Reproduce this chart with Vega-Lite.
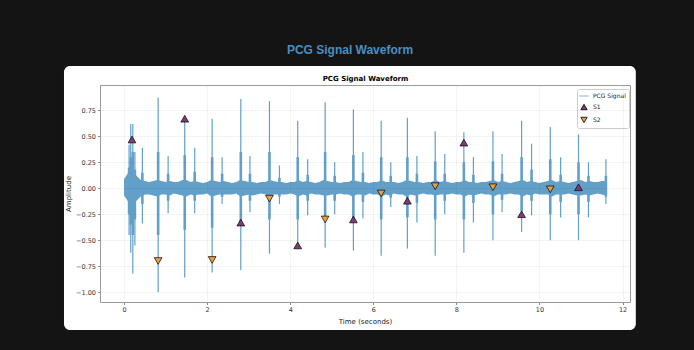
{
  "$schema": "https://vega.github.io/schema/vega-lite/v6.json",
  "width": 530,
  "height": 217,
  "autosize": {"type": "none"},
  "padding": {"left": 100, "top": 85, "right": 64, "bottom": 48},
  "background": "#141414",
  "title": {
    "text": "PCG Signal Waveform",
    "anchor": "middle",
    "frame": "group",
    "dx": -15,
    "offset": 9,
    "font": "Liberation Sans",
    "fontSize": 12,
    "fontWeight": "bold",
    "color": "#4a8fc0"
  },
  "config": {
    "view": {"stroke": null},
    "axis": {
      "labelFont": "DejaVu Sans",
      "labelFontSize": 6.5,
      "labelColor": "#333333",
      "titleFont": "DejaVu Sans",
      "titleFontSize": 7,
      "titleColor": "#222222",
      "titleFontWeight": "normal",
      "domainColor": "#9a9a9a",
      "domainWidth": 1,
      "tickColor": "#555555",
      "tickSize": 2.5,
      "tickWidth": 0.7,
      "gridColor": "#000000",
      "gridOpacity": 0.08,
      "gridWidth": 0.6,
      "labelPadding": 2
    }
  },
  "datasets": {
    "band": [
      {"t":0.0,"h":0.09,"l":-0.07},{"t":0.1,"h":0.15,"l":-0.13},{"t":0.2,"h":0.17,"l":-0.15},{"t":0.3,"h":0.12,"l":-0.12},
      {"t":0.4,"h":0.08,"l":-0.08},{"t":0.5,"h":0.07,"l":-0.06},{"t":0.6,"h":0.06,"l":-0.06},{"t":0.7,"h":0.07,"l":-0.07},
      {"t":0.8,"h":0.08,"l":-0.08},{"t":0.9,"h":0.07,"l":-0.06},{"t":1.0,"h":0.06,"l":-0.06},{"t":1.1,"h":0.07,"l":-0.07},
      {"t":1.2,"h":0.06,"l":-0.05},{"t":1.3,"h":0.06,"l":-0.06},{"t":1.4,"h":0.08,"l":-0.07},{"t":1.5,"h":0.08,"l":-0.08},
      {"t":1.6,"h":0.06,"l":-0.06},{"t":1.7,"h":0.07,"l":-0.07},{"t":1.8,"h":0.06,"l":-0.06},{"t":1.9,"h":0.05,"l":-0.06},
      {"t":2.0,"h":0.06,"l":-0.05},{"t":2.1,"h":0.08,"l":-0.08},{"t":2.2,"h":0.07,"l":-0.07},{"t":2.3,"h":0.06,"l":-0.06},
      {"t":2.4,"h":0.07,"l":-0.06},{"t":2.5,"h":0.06,"l":-0.06},{"t":2.6,"h":0.05,"l":-0.06},{"t":2.7,"h":0.06,"l":-0.05},
      {"t":2.8,"h":0.08,"l":-0.08},{"t":2.9,"h":0.07,"l":-0.07},{"t":3.0,"h":0.06,"l":-0.06},{"t":3.1,"h":0.06,"l":-0.07},
      {"t":3.2,"h":0.05,"l":-0.06},{"t":3.3,"h":0.06,"l":-0.05},{"t":3.4,"h":0.06,"l":-0.06},{"t":3.5,"h":0.08,"l":-0.08},
      {"t":3.6,"h":0.07,"l":-0.06},{"t":3.7,"h":0.06,"l":-0.06},{"t":3.8,"h":0.06,"l":-0.06},{"t":3.9,"h":0.05,"l":-0.06},
      {"t":4.0,"h":0.06,"l":-0.05},{"t":4.1,"h":0.06,"l":-0.06},{"t":4.2,"h":0.08,"l":-0.08},{"t":4.3,"h":0.06,"l":-0.06},
      {"t":4.4,"h":0.07,"l":-0.07},{"t":4.5,"h":0.06,"l":-0.05},{"t":4.6,"h":0.05,"l":-0.06},{"t":4.7,"h":0.06,"l":-0.06},
      {"t":4.8,"h":0.08,"l":-0.07},{"t":4.9,"h":0.07,"l":-0.07},{"t":5.0,"h":0.06,"l":-0.06},{"t":5.1,"h":0.06,"l":-0.06},
      {"t":5.2,"h":0.05,"l":-0.05},{"t":5.3,"h":0.06,"l":-0.06},{"t":5.4,"h":0.06,"l":-0.06},{"t":5.5,"h":0.08,"l":-0.08},
      {"t":5.6,"h":0.07,"l":-0.06},{"t":5.7,"h":0.06,"l":-0.06},{"t":5.8,"h":0.06,"l":-0.07},{"t":5.9,"h":0.05,"l":-0.05},
      {"t":6.0,"h":0.06,"l":-0.06},{"t":6.1,"h":0.06,"l":-0.06},{"t":6.2,"h":0.08,"l":-0.08},{"t":6.3,"h":0.06,"l":-0.06},
      {"t":6.4,"h":0.06,"l":-0.07},{"t":6.5,"h":0.06,"l":-0.05},{"t":6.6,"h":0.05,"l":-0.06},{"t":6.7,"h":0.06,"l":-0.06},
      {"t":6.8,"h":0.08,"l":-0.08},{"t":6.9,"h":0.07,"l":-0.06},{"t":7.0,"h":0.06,"l":-0.07},{"t":7.1,"h":0.06,"l":-0.06},
      {"t":7.2,"h":0.05,"l":-0.05},{"t":7.3,"h":0.06,"l":-0.06},{"t":7.4,"h":0.06,"l":-0.06},{"t":7.5,"h":0.08,"l":-0.07},
      {"t":7.6,"h":0.06,"l":-0.06},{"t":7.7,"h":0.07,"l":-0.06},{"t":7.8,"h":0.06,"l":-0.06},{"t":7.9,"h":0.05,"l":-0.05},
      {"t":8.0,"h":0.06,"l":-0.06},{"t":8.1,"h":0.06,"l":-0.06},{"t":8.2,"h":0.08,"l":-0.08},{"t":8.3,"h":0.06,"l":-0.06},
      {"t":8.4,"h":0.06,"l":-0.07},{"t":8.5,"h":0.05,"l":-0.06},{"t":8.6,"h":0.06,"l":-0.05},{"t":8.7,"h":0.06,"l":-0.06},
      {"t":8.8,"h":0.07,"l":-0.06},{"t":8.9,"h":0.08,"l":-0.08},{"t":9.0,"h":0.06,"l":-0.06},{"t":9.1,"h":0.07,"l":-0.06},
      {"t":9.2,"h":0.06,"l":-0.06},{"t":9.3,"h":0.05,"l":-0.05},{"t":9.4,"h":0.06,"l":-0.06},{"t":9.5,"h":0.07,"l":-0.06},
      {"t":9.6,"h":0.08,"l":-0.08},{"t":9.7,"h":0.06,"l":-0.06},{"t":9.8,"h":0.07,"l":-0.07},{"t":9.9,"h":0.06,"l":-0.05},
      {"t":10.0,"h":0.05,"l":-0.06},{"t":10.1,"h":0.06,"l":-0.06},{"t":10.2,"h":0.07,"l":-0.06},{"t":10.3,"h":0.08,"l":-0.08},
      {"t":10.4,"h":0.06,"l":-0.06},{"t":10.5,"h":0.07,"l":-0.06},{"t":10.6,"h":0.06,"l":-0.06},{"t":10.7,"h":0.05,"l":-0.05},
      {"t":10.8,"h":0.06,"l":-0.06},{"t":10.9,"h":0.07,"l":-0.07},{"t":11.0,"h":0.08,"l":-0.07},{"t":11.1,"h":0.06,"l":-0.06},
      {"t":11.2,"h":0.07,"l":-0.07},{"t":11.3,"h":0.06,"l":-0.06},{"t":11.4,"h":0.06,"l":-0.05},{"t":11.5,"h":0.07,"l":-0.06},
      {"t":11.6,"h":0.07,"l":-0.07}
    ],
    "spikes": [
      {"t":0.12,"top":0.42,"bot":-0.45,"ct":0.2,"cb":-0.25},
      {"t":0.16,"top":0.62,"bot":-0.62,"ct":0.3,"cb":-0.35},
      {"t":0.21,"top":0.62,"bot":-0.82,"ct":0.35,"cb":-0.45},
      {"t":0.26,"top":0.35,"bot":-0.55,"ct":0.18,"cb":-0.3},
      {"t":0.44,"top":0.39,"bot":-0.34,"ct":0.15,"cb":-0.15},
      {"t":0.82,"top":0.875,"bot":-1.0,"ct":0.35,"cb":-0.45},
      {"t":1.06,"top":0.31,"bot":-0.24,"ct":0.14,"cb":-0.12},
      {"t":1.46,"top":0.70,"bot":-0.86,"ct":0.32,"cb":-0.4},
      {"t":1.70,"top":0.39,"bot":-0.24,"ct":0.16,"cb":-0.12},
      {"t":2.12,"top":0.67,"bot":-0.81,"ct":0.3,"cb":-0.38},
      {"t":2.36,"top":0.30,"bot":-0.15,"ct":0.14,"cb":-0.08},
      {"t":2.81,"top":0.86,"bot":-0.79,"ct":0.35,"cb":-0.35},
      {"t":3.03,"top":0.31,"bot":-0.23,"ct":0.14,"cb":-0.12},
      {"t":3.50,"top":0.84,"bot":-0.63,"ct":0.35,"cb":-0.3},
      {"t":3.74,"top":0.22,"bot":-0.15,"ct":0.1,"cb":-0.08},
      {"t":4.18,"top":0.65,"bot":-0.58,"ct":0.3,"cb":-0.3},
      {"t":4.42,"top":0.28,"bot":-0.26,"ct":0.13,"cb":-0.12},
      {"t":4.84,"top":0.83,"bot":-0.57,"ct":0.35,"cb":-0.28},
      {"t":5.07,"top":0.25,"bot":-0.25,"ct":0.12,"cb":-0.12},
      {"t":5.52,"top":0.76,"bot":-0.60,"ct":0.32,"cb":-0.3},
      {"t":5.75,"top":0.35,"bot":-0.29,"ct":0.15,"cb":-0.13},
      {"t":6.19,"top":0.65,"bot":-0.65,"ct":0.3,"cb":-0.3},
      {"t":6.42,"top":0.25,"bot":-0.18,"ct":0.12,"cb":-0.09},
      {"t":6.82,"top":0.68,"bot":-0.58,"ct":0.3,"cb":-0.28},
      {"t":7.05,"top":0.31,"bot":-0.33,"ct":0.14,"cb":-0.14},
      {"t":7.49,"top":0.55,"bot":-0.65,"ct":0.26,"cb":-0.3},
      {"t":7.72,"top":0.33,"bot":-0.25,"ct":0.14,"cb":-0.12},
      {"t":8.18,"top":0.54,"bot":-0.62,"ct":0.25,"cb":-0.3},
      {"t":8.41,"top":0.30,"bot":-0.33,"ct":0.13,"cb":-0.14},
      {"t":8.88,"top":0.55,"bot":-0.50,"ct":0.26,"cb":-0.25},
      {"t":9.10,"top":0.33,"bot":-0.23,"ct":0.14,"cb":-0.11},
      {"t":9.57,"top":0.65,"bot":-0.42,"ct":0.3,"cb":-0.22},
      {"t":9.81,"top":0.43,"bot":-0.26,"ct":0.18,"cb":-0.12},
      {"t":10.26,"top":0.59,"bot":-0.50,"ct":0.28,"cb":-0.25},
      {"t":10.51,"top":0.30,"bot":-0.28,"ct":0.13,"cb":-0.13},
      {"t":10.94,"top":0.52,"bot":-0.50,"ct":0.25,"cb":-0.25},
      {"t":11.18,"top":0.25,"bot":-0.28,"ct":0.12,"cb":-0.13},
      {"t":11.60,"top":0.28,"bot":-0.15,"ct":0.12,"cb":-0.08}
    ],
    "markers": [
      {"t":0.19,"a":0.47,"series":"S1"},
      {"t":1.46,"a":0.67,"series":"S1"},
      {"t":2.81,"a":-0.33,"series":"S1"},
      {"t":4.18,"a":-0.55,"series":"S1"},
      {"t":5.52,"a":-0.30,"series":"S1"},
      {"t":6.82,"a":-0.12,"series":"S1"},
      {"t":8.18,"a":0.44,"series":"S1"},
      {"t":9.57,"a":-0.25,"series":"S1"},
      {"t":10.94,"a":0.01,"series":"S1"},
      {"t":0.82,"a":-0.70,"series":"S2"},
      {"t":2.12,"a":-0.69,"series":"S2"},
      {"t":3.50,"a":-0.10,"series":"S2"},
      {"t":4.84,"a":-0.30,"series":"S2"},
      {"t":6.19,"a":-0.05,"series":"S2"},
      {"t":7.49,"a":0.02,"series":"S2"},
      {"t":8.88,"a":0.01,"series":"S2"},
      {"t":10.26,"a":-0.01,"series":"S2"}
    ]
  },
  "layer": [
    {
      "data": {"values": [{}]},
      "mark": {"type": "rect", "fill": "#ffffff", "cornerRadius": 6, "clip": false},
      "encoding": {
        "x": {"datum": -1.447, "type": "quantitative", "scale": {"domain": [-0.58, 12.18], "nice": false, "zero": false},
              "axis": {"zindex": 1, "orient": "bottom", "title": "Time (seconds)", "values": [0,2,4,6,8,10,12], "format": "d", "grid": true, "titlePadding": 4}},
        "x2": {"datum": 12.32},
        "y": {"datum": 1.178, "type": "quantitative", "scale": {"domain": [-1.095, 0.995], "nice": false, "zero": false},
              "axis": {"zindex": 1, "orient": "left", "title": "Amplitude", "values": [-1,-0.75,-0.5,-0.25,0,0.25,0.5,0.75], "format": ".2f", "grid": true, "titlePadding": 4}},
        "y2": {"datum": -1.365}
      }
    },
    {
      "data": {"name": "band"},
      "mark": {"type": "area", "color": "#62a0ca", "opacity": 1},
      "encoding": {
        "x": {"field": "t", "type": "quantitative", "scale": {"domain": [-0.58, 12.18], "nice": false, "zero": false},
              "axis": {"zindex": 1, "orient": "top", "title": "PCG Signal Waveform", "titleFontWeight": "bold", "titleFontSize": 7, "titleColor": "#000000", "labels": false, "ticks": false, "grid": false, "titlePadding": 4}},
        "y": {"field": "h", "type": "quantitative", "scale": {"domain": [-1.095, 0.995], "nice": false, "zero": false},
              "axis": {"zindex": 1, "orient": "right", "title": null, "labels": false, "ticks": false, "grid": false}},
        "y2": {"field": "l"}
      }
    },
    {
      "data": {"name": "spikes"},
      "mark": {"type": "rule", "color": "#62a0ca", "strokeWidth": 1.2},
      "encoding": {
        "x": {"field": "t", "type": "quantitative", "scale": {"domain": [-0.58, 12.18], "nice": false, "zero": false}, "axis": null},
        "y": {"field": "top", "type": "quantitative", "scale": {"domain": [-1.095, 0.995], "nice": false, "zero": false}, "axis": null},
        "y2": {"field": "bot"}
      }
    },
    {
      "data": {"name": "spikes"},
      "mark": {"type": "rule", "color": "#62a0ca", "strokeWidth": 2.6},
      "encoding": {
        "x": {"field": "t", "type": "quantitative", "scale": {"domain": [-0.58, 12.18], "nice": false, "zero": false}, "axis": null},
        "y": {"field": "ct", "type": "quantitative", "scale": {"domain": [-1.095, 0.995], "nice": false, "zero": false}, "axis": null},
        "y2": {"field": "cb"}
      }
    },
    {
      "data": {"name": "markers"},
      "mark": {"type": "point", "filled": true, "strokeWidth": 0.7, "size": 60, "opacity": 1},
      "encoding": {
        "x": {"field": "t", "type": "quantitative", "scale": {"domain": [-0.58, 12.18], "nice": false, "zero": false}, "axis": null},
        "y": {"field": "a", "type": "quantitative", "scale": {"domain": [-1.095, 0.995], "nice": false, "zero": false}, "axis": null},
        "color": {"field": "series", "type": "nominal",
                  "scale": {"domain": ["PCG Signal", "S1", "S2"], "range": ["#62a0ca", "#803c78", "#eaa040"]},
                  "legend": {"title": null, "orient": "none", "legendX": 477, "legendY": 4, "direction": "vertical",
                             "fillColor": "rgba(255,255,255,0.85)", "strokeColor": "#cccccc", "cornerRadius": 2, "padding": 3,
                             "labelFont": "DejaVu Sans", "labelFontSize": 6, "labelColor": "#222222", "symbolSize": 40,
                             "symbolStrokeWidth": 0.8, "rowPadding": 3, "labelOffset": 5}},
        "stroke": {"field": "series", "type": "nominal",
                   "scale": {"domain": ["PCG Signal", "S1", "S2"], "range": ["#62a0ca", "#000000", "#000000"]}},
        "shape": {"field": "series", "type": "nominal",
                  "scale": {"domain": ["PCG Signal", "S1", "S2"], "range": ["M-1.5,0H1.5", "triangle-up", "triangle-down"]}}
      }
    }
  ],
  "resolve": {"axis": {"x": "independent", "y": "independent"}}
}
